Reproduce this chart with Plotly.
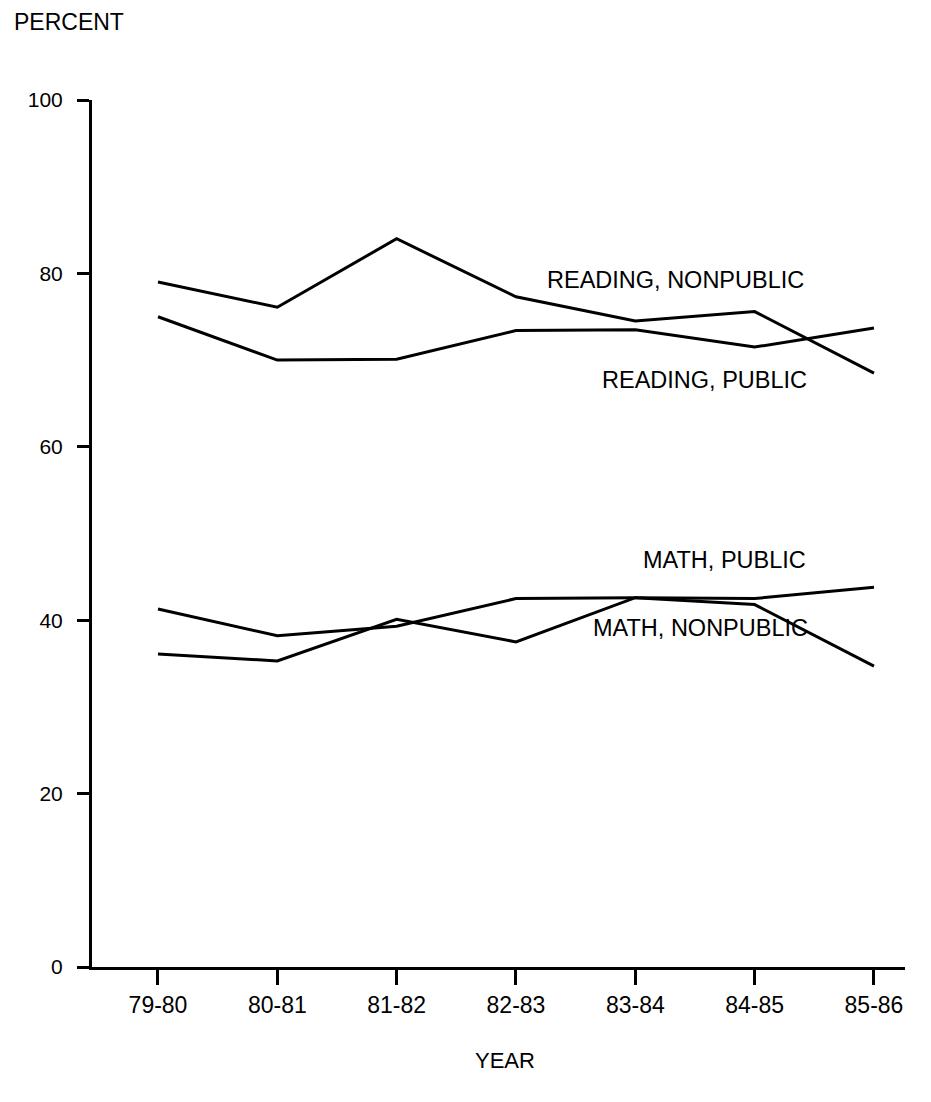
import plotly.graph_objects as go

years = ["79-80", "80-81", "81-82", "82-83", "83-84", "84-85", "85-86"]
reading_nonpublic = [79.0, 76.1, 84.0, 77.3, 74.5, 75.6, 68.5]
reading_public = [75.0, 70.0, 70.1, 73.4, 73.5, 71.5, 73.7]
math_public = [41.3, 38.2, 39.3, 42.5, 42.6, 42.5, 43.8]
math_nonpublic = [36.1, 35.3, 40.1, 37.5, 42.6, 41.8, 34.7]
y_ticks = [0, 20, 40, 60, 80, 100]

series = [
    ("READING, NONPUBLIC", reading_nonpublic, 4.34, 79.2),
    ("READING, PUBLIC", reading_public, 4.58, 67.7),
    ("MATH, PUBLIC", math_public, 4.75, 46.9),
    ("MATH, NONPUBLIC", math_nonpublic, 4.55, 39.1),
]

FONT = "Liberation Sans, Arial, Helvetica, sans-serif"
xs = list(range(len(years)))

# the page body adds an 8px margin; work in figure coordinates
OFF = 8
W, H = 931 - 2 * OFF, 1102 - 2 * OFF
L, R, T, B = 92 - OFF, 905 - OFF, 100 - OFF, 967 - OFF

fig = go.Figure()
for name, vals, _, _ in series:
    fig.add_trace(go.Scatter(x=xs, y=vals, mode="lines", name=name,
                             line=dict(color="black", width=3)))

for name, _, lx, ly in series:
    fig.add_annotation(x=lx, y=ly, xref="x", yref="y", text=name,
                       showarrow=False, font=dict(family=FONT, size=23.5, color="black"),
                       xanchor="center", yanchor="middle")


def paper(px, py):
    return (px - OFF - L) / (R - L), (B - (py - OFF)) / (B - T)


px_, py_ = paper(12, 22)
fig.add_annotation(x=px_, y=py_, xref="paper", yref="paper", text="PERCENT",
                   showarrow=False, font=dict(family=FONT, size=23, color="black"),
                   xanchor="left", yanchor="middle")
px_, py_ = paper(505, 1060)
fig.add_annotation(x=px_, y=py_, xref="paper", yref="paper", text="YEAR",
                   showarrow=False, font=dict(family=FONT, size=22, color="black"),
                   xanchor="center", yanchor="middle")

fig.update_layout(
    width=W, height=H,
    margin=dict(l=L, r=W - R, t=T, b=H - B, pad=0),
    paper_bgcolor="white", plot_bgcolor="white",
    showlegend=False,
    font=dict(family=FONT, color="black"),
)
fig.update_xaxes(
    range=[-0.553, 6.26], tickvals=xs, ticktext=years,
    showline=True, linecolor="black", linewidth=3, showgrid=False, zeroline=False,
    ticks="outside", ticklen=15, tickwidth=3, tickcolor="black",
    tickfont=dict(family=FONT, size=23, color="black"),
)
fig.update_yaxes(
    range=[0, 100], tickvals=y_ticks,
    showline=True, linecolor="black", linewidth=3, showgrid=False, zeroline=False,
    ticks="outside", ticklen=12, tickwidth=3, tickcolor="black",
    ticklabelstandoff=10,
    tickfont=dict(family=FONT, size=21, color="black"),
)

fig.write_html("out.html")
